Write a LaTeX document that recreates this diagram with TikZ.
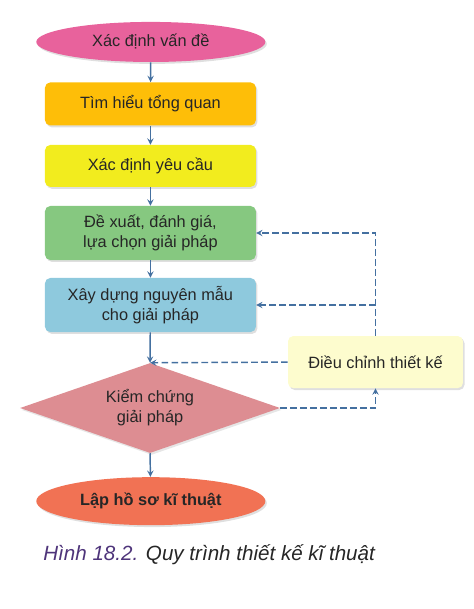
\documentclass[tikz,border=0pt]{standalone}
\usepackage{fontspec}
\setmainfont{Liberation Sans}
\usepackage{tikz}
\usetikzlibrary{arrows,shapes,positioning,shadows}
\usepackage{xcolor}
\definecolor{fcpink}{RGB}{232,98,156}
\definecolor{fcorange}{RGB}{254,190,8}
\definecolor{fcyellow}{RGB}{242,236,30}
\definecolor{fcgreen}{RGB}{134,200,128}
\definecolor{fcblue}{RGB}{142,201,221}
\definecolor{fcrose}{RGB}{221,141,146}
\definecolor{fccream}{RGB}{253,252,206}
\definecolor{fcsalmon}{RGB}{241,114,84}
\definecolor{fcline}{RGB}{68,112,160}
\definecolor{fcpurple}{RGB}{78,52,122}
\definecolor{fctext}{RGB}{38,38,38}
\tikzstyle{terminal} = [ellipse, minimum width=6.06cm, text centered, fill, draw=none, drop shadow={opacity=0.25, shadow xshift=0.04cm, shadow yshift=-0.05cm}]
\tikzstyle{stepbox} = [rectangle, rounded corners=4pt, minimum width=5.58cm, text centered, align=center, draw=none, drop shadow={opacity=0.25, shadow xshift=0.04cm, shadow yshift=-0.05cm}]
\tikzstyle{arrow} = [line width=1.1pt,->,>=stealth,color=fcline]
\tikzstyle{feedback} = [line width=1.1pt,->,>=stealth,color=fcline,dash pattern=on 5pt off 2.5pt]

\begin{document}
\begin{tikzpicture}[font=\fontsize{12.3}{15}\selectfont, text=fctext]
\useasboundingbox (0,0) rectangle (12.515,-16.113);

% Start and end
\node[terminal, fill=fcpink, minimum height=1.06cm] (problem) at (3.99,-1.11) {Xác định vấn đề};
\node[terminal, fill=fcsalmon, minimum height=1.27cm, font=\fontsize{12.3}{15}\selectfont\bfseries] (report) at (3.99,-13.26) {Lập hồ sơ kĩ thuật};

% Steps
\node[stepbox, fill=fcorange, minimum height=1.14cm] (overview) at (3.98,-2.75) {Tìm hiểu tổng quan};
\node[stepbox, fill=fcyellow, minimum height=1.11cm] (require) at (3.98,-4.39) {Xác định yêu cầu};
\node[stepbox, fill=fcgreen, minimum height=1.43cm] (propose) at (3.98,-6.165) {Đề xuất, đánh giá,\\lựa chọn giải pháp};
\node[stepbox, fill=fcblue, minimum height=1.43cm] (prototype) at (3.98,-8.07) {Xây dựng nguyên mẫu\\cho giải pháp};

% Test
\node[diamond, aspect=2.89, minimum width=6.88cm, minimum height=2.38cm, inner sep=0pt, fill=fcrose, align=center, drop shadow={opacity=0.2, shadow xshift=0.04cm, shadow yshift=-0.05cm}] (verify) at (3.97,-10.795) {Kiểm chứng\\giải pháp};
\node[stepbox, fill=fccream, minimum width=4.63cm, minimum height=1.38cm] (adjust) at (9.935,-9.58) {Điều chỉnh thiết kế};

% Main flow
\draw[arrow] (problem) -- (overview);
\draw[arrow] (overview) -- (require);
\draw[arrow] (require) -- (propose);
\draw[arrow] (propose) -- (prototype);
\draw[arrow] (prototype) -- (verify.north);
\draw[arrow] (verify.south) -- (report);

% Feedback loop
\draw[feedback] (verify.east) -| (adjust.south);
\draw[feedback] (adjust.west) -- (verify.north);
\draw[feedback] (adjust.north) |- (propose.east);
\draw[feedback] (adjust.north |- prototype.east) -- (prototype.east);

% Caption
\node[anchor=base west, inner sep=0pt, font=\fontsize{15.5}{18}\selectfont\itshape] (caption) at (1.14,-14.82) {\textcolor{fcpurple}{Hình 18.2.} Quy trình thiết kế kĩ thuật};
\end{tikzpicture}
\end{document}
